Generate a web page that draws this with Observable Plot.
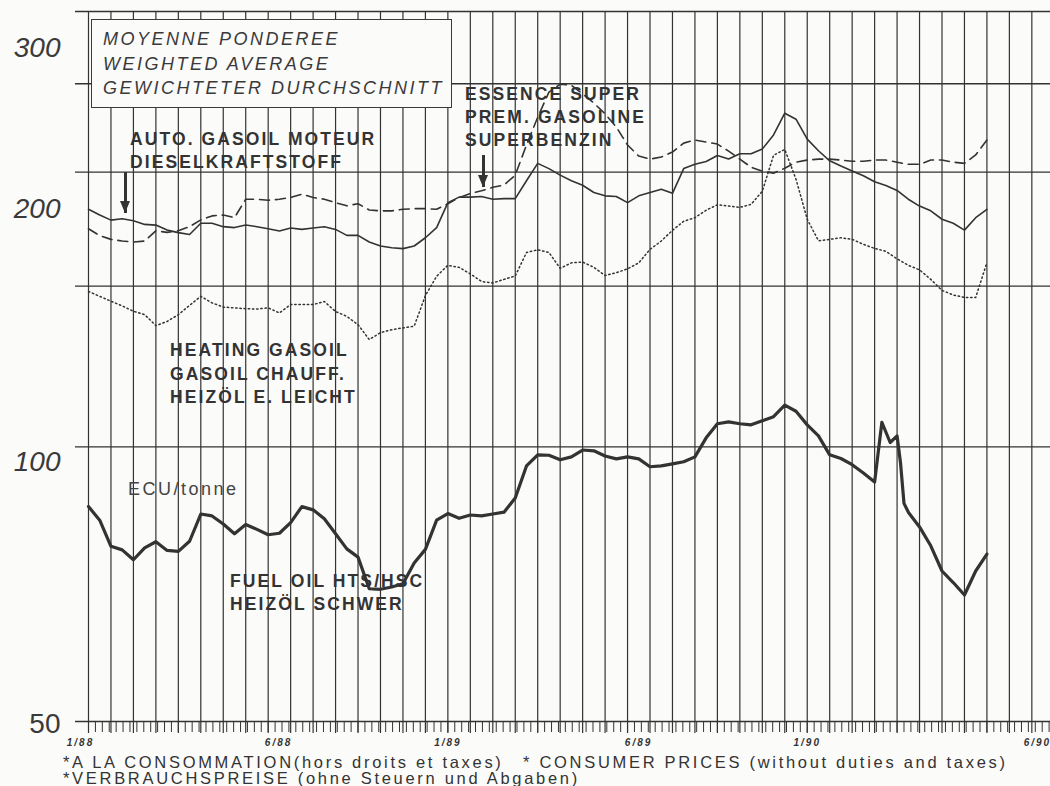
<!DOCTYPE html>
<html>
<head>
<meta charset="utf-8">
<script src="https://cdn.jsdelivr.net/npm/d3@7"></script>
<script src="https://cdn.jsdelivr.net/npm/@observablehq/plot@0.6"></script>
<style>
  html, body { margin: 0; padding: 0; background: #fbfbfa; }
  #wrap { position: relative; width: 1050px; height: 786px; overflow: hidden; font-family: "Liberation Sans", Arial, sans-serif; color: #333; }
  #chart { position: absolute; left: 0; top: 0; }
  .ov { position: absolute; white-space: nowrap; }
  .box { position: absolute; left: 91px; top: 19px; width: 361px; height: 89px; box-sizing: border-box; border: 1.6px solid #3a3a3a; background: #fbfbfa; }
  .boxtxt { font-style: italic; font-size: 18px; line-height: 24.5px; letter-spacing: 2.5px; color: #3a3a3a; }
  .bold { font-weight: bold; font-size: 17.5px; line-height: 23px; letter-spacing: 2.1px; color: #333; }
  .reg { font-size: 18px; line-height: 22px; letter-spacing: 2.5px; color: #444; }
  .cap { font-size: 16.5px; line-height: 17px; letter-spacing: 2.7px; color: #333; }
  .arrow { position: absolute; width: 3px; background: #333; }
  .arrow::after { content: ""; position: absolute; left: -3.5px; bottom: 0; border-left: 5px solid transparent; border-right: 5px solid transparent; border-top: 12px solid #333; }
  #chart svg g[aria-label="x-axis tick label"] text { letter-spacing: 2px; }
</style>
</head>
<body>
<div id="wrap">
  <div id="chart"></div>
  <div class="box"></div>
  <div class="ov boxtxt" style="left:103px;top:27px;">MOYENNE PONDEREE<br>WEIGHTED AVERAGE<br>GEWICHTETER DURCHSCHNITT</div>
  <div class="ov bold" style="left:130px;top:127.5px;">AUTO. GASOIL MOTEUR<br>DIESELKRAFTSTOFF</div>
  <div class="arrow" style="left:123.5px;top:172px;height:41px;"></div>
  <div class="ov bold" style="left:465px;top:82.5px;">ESSENCE SUPER<br>PREM. GASOLINE<br>SUPERBENZIN</div>
  <div class="arrow" style="left:481.5px;top:155px;height:32px;"></div>
  <div class="ov bold" style="left:170px;top:339px;line-height:23.5px;">HEATING GASOIL<br>GASOIL CHAUFF.<br>HEIZÖL E. LEICHT</div>
  <div class="ov reg" style="left:128px;top:478px;">ECU/tonne</div>
  <div class="ov bold" style="left:230px;top:569.5px;">FUEL OIL HTS/HSC<br>HEIZÖL SCHWER</div>
  <div class="ov cap" style="left:63px;top:754px;">*A LA CONSOMMATION(hors droits et taxes)</div>
  <div class="ov cap" style="left:523px;top:754px;">* CONSUMER PRICES (without duties and taxes)</div>
  <div class="ov cap" style="left:63px;top:770px;">*VERBRAUCHSPREISE (ohne Steuern und Abgaben)</div>
</div>
<script>
// x: weeks since the first week of January 1988; samples every 1.625 weeks (half a grid interval)
const weeks = d3.range(0, 130.01, 1.625);

// Auto. gasoil moteur / Dieselkraftstoff (ECU/tonne)
const diesel = [
  182.1,179.5,177.2,177.8,176.9,175.3,175.0,172.8,171.7,170.9,
  175.8,175.8,174.3,173.9,175.0,174.3,173.4,172.4,173.7,173.1,
  173.7,174.3,173.1,170.5,170.5,167.7,166.0,165.3,164.9,166.0,
  169.5,173.9,185.2,187.8,187.8,188.1,186.8,187.1,187.1,195.7,
  204.5,201.8,198.5,195.7,193.5,190.0,188.4,188.1,185.2,188.4,
  190.0,191.6,189.6,201.8,204.0,205.5,208.6,206.8,209.5,209.5,
  212.0,219.7,232.1,228.6,217.4,211.1,205.8,203.1,200.6,198.2,
  195.2,193.4,191.0,186.8,183.6,181.4,177.6,175.8,172.8,178.3,
  182.1
];

// Essence super / Prem. gasoline / Superbenzin
const superGas = [
  173.4,170.4,168.8,168.1,167.7,168.1,172.5,171.8,172.5,174.3,
  177.3,179.1,179.5,178.3,186.8,186.8,186.3,186.8,187.6,189.2,
  187.6,186.8,185.2,183.7,184.7,181.8,181.4,181.4,182.1,182.4,
  182.4,182.1,184.7,187.6,189.5,190.8,192.5,193.6,198.5,214.2,
  229.7,244.8,249.7,249.0,243.6,238.1,231.7,224.1,214.2,208.3,
  206.7,207.8,210.4,215.2,216.9,215.8,214.7,210.9,206.7,202.5,
  200.5,199.5,202.0,205.1,206.2,206.7,206.7,206.2,205.6,205.6,
  206.2,206.2,205.1,204.0,204.0,206.2,206.2,205.1,204.5,208.9,
  216.9
];

// Heating gasoil / Gasoil chauff. / Heizöl e. leicht
const heating = [
  148.0,146.2,144.4,142.7,140.8,139.6,135.8,137.2,139.6,142.9,
  146.2,143.8,142.3,142.0,141.7,141.6,142.0,140.2,143.2,143.2,
  143.2,144.3,140.7,139.0,136.1,131.1,133.4,134.4,135.0,135.6,
  146.5,153.8,158.1,157.3,154.7,151.8,151.2,152.6,153.9,163.3,
  164.4,163.3,156.9,159.1,159.4,157.3,154.1,155.2,156.7,159.1,
  164.6,168.1,172.7,176.7,178.3,181.7,184.2,183.6,183.0,184.4,
  190.6,208.7,211.8,196.5,177.6,168.2,168.8,169.5,168.8,166.7,
  165.0,163.8,160.7,158.1,156.3,152.6,148.4,146.7,145.8,145.8,
  159.2
];

// Fuel oil HTS/HSC / Heizöl schwer (extra readings around the early-1990 spike)
const fuelWeeks = [...weeks.slice(0, 71), 114.8, 116.0, 117.0, 117.5, 118.0, ...weeks.slice(73)];
const fuel = [
  86.0,83.1,77.8,77.1,75.2,77.5,78.7,77.0,76.8,78.8,
  84.4,84.0,82.3,80.3,82.2,81.2,80.1,80.4,82.6,86.0,
  85.3,83.4,80.3,77.3,75.7,69.9,69.8,70.2,70.8,74.6,
  77.2,83.1,84.5,83.5,84.2,84.0,84.4,84.8,87.9,95.3,
  98.0,97.9,96.8,97.5,99.2,99.0,97.7,97.0,97.5,97.0,
  95.1,95.3,95.8,96.3,97.5,102.3,106.0,106.5,106.0,105.7,
  106.8,107.9,111.1,109.4,105.7,102.8,98.0,97.1,95.6,93.6,
  91.5,106.4,101.1,102.8,96.0,86.7,
  84.8,81.7,77.9,73.1,71.0,68.8,73.1,76.3
];

// axes
const yGrid = [50, 100, 150, 200, 250, 300];
const yLabelsUpper = [300, 200];
const yLabelsMid = [100];
const yLabelsLow = [50];
const gridWeeks = d3.range(0, 139, 3.25);
const tickWeeks = d3.range(0, 139.2, 1);
const firstLabelWeek = [0];
const labelWeeks = [27.5, 52, 79.6, 104, 137.3];
const labelText = ["6/88", "1/89", "6/89", "1/90", "6/90"];
const labelMap = new Map(labelWeeks.map((w, i) => [w, labelText[i]]));

const rows = weeks.map((w, i) => ({week: w, diesel: diesel[i], superGas: superGas[i], heating: heating[i]}));
const fuelRows = fuelWeeks.map((w, i) => ({week: w, fuel: fuel[i]}));

const ink = "#333";
const yText = {tickSize: 0, tickPadding: 28, fontSize: 28, fill: "#3a3a3a", stroke: "none", label: null, tickFormat: d => String(d)};
const xText = {tickSize: 0, tickPadding: 17, fontSize: 10, fontWeight: "bold", fontStyle: "italic", fill: ink, label: null};

const chart = Plot.plot({
  width: 1050,
  height: 752,
  marginLeft: 88,
  marginRight: 0,
  marginTop: 11,
  marginBottom: 31,
  style: {background: "transparent", fontFamily: "Liberation Sans, Arial, sans-serif", color: ink},
  x: {type: "linear", domain: [0, 139.2], label: null},
  y: {type: "log", domain: [50, 300], label: null},
  marks: [
    Plot.gridY(yGrid, {stroke: ink, strokeOpacity: 1, strokeWidth: 1.3, insetLeft: -13}),
    Plot.gridX(gridWeeks, {stroke: ink, strokeOpacity: 1, strokeWidth: 1.2}),
    Plot.axisX(gridWeeks, {tickSize: 12, stroke: ink, strokeWidth: 1.2, label: null, tickFormat: () => ""}),
    Plot.axisX(tickWeeks, {tickSize: 11, stroke: ink, strokeWidth: 1, label: null, tickFormat: () => ""}),
    Plot.axisX(firstLabelWeek, {...xText, dx: -8, tickFormat: () => "1/88"}),
    Plot.axisX(labelWeeks, {...xText, tickFormat: d => labelMap.get(d)}),
    Plot.axisY(yLabelsUpper, {...yText, fontStyle: "italic", dy: 37}),
    Plot.axisY(yLabelsMid, {...yText, fontStyle: "italic", dy: 15}),
    Plot.axisY(yLabelsLow, {...yText, dy: 3}),
    Plot.line(rows, {x: "week", y: "heating", stroke: ink, strokeWidth: 1.5, strokeDasharray: "1.4,2.8"}),
    Plot.line(rows, {x: "week", y: "superGas", stroke: ink, strokeWidth: 1.6, strokeDasharray: "10,6"}),
    Plot.line(rows, {x: "week", y: "diesel", stroke: ink, strokeWidth: 1.6}),
    Plot.line(fuelRows, {x: "week", y: "fuel", stroke: ink, strokeWidth: 3.2, strokeLinejoin: "round"})
  ]
});
document.getElementById("chart").appendChild(chart);
</script>
</body>
</html>
